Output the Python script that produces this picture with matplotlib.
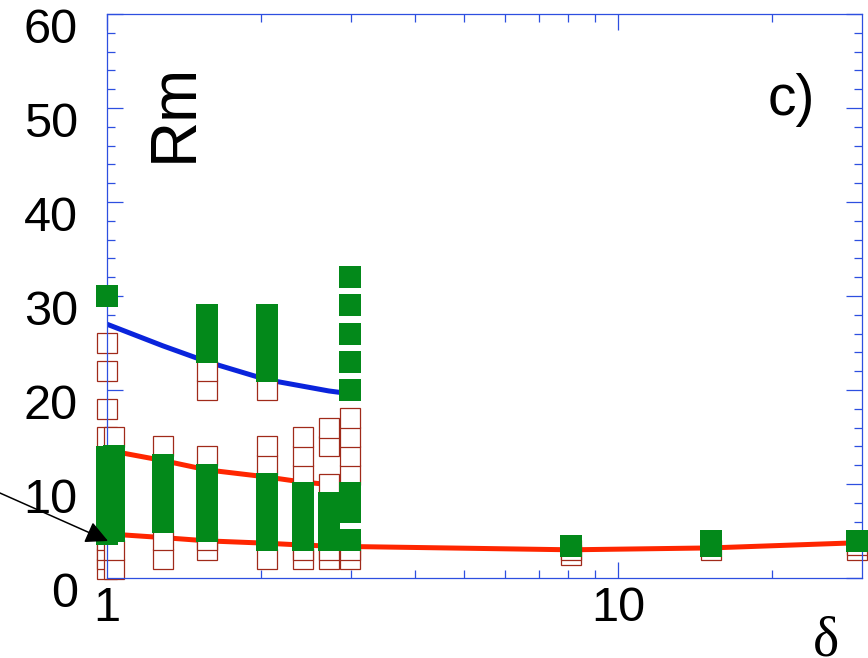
import matplotlib
matplotlib.use("Agg")
import matplotlib.pyplot as plt
from matplotlib.ticker import FixedLocator, MultipleLocator, NullFormatter, FixedFormatter
from matplotlib.transforms import ScaledTranslation

plt.rcParams['font.family'] = ['Liberation Sans', 'DejaVu Sans']

# columns of runs: aspect ratio delta, with non-dynamo (open) and dynamo (filled) Rm values
delta_cols = [1.0, 1.03, 1.286, 1.571, 2.054, 2.418, 2.716, 2.993, 8.09, 15.2, 29.4]
rm_open = [
    [1, 2, 3, 4, 15, 18, 22, 25],
    [1, 3, 15],
    [2, 4, 14],
    [3, 4, 13, 20, 22],
    [2, 12, 14, 20],
    [2, 3, 11, 13, 15],
    [2, 3, 10, 14, 16],
    [2, 3, 11, 13, 15, 17],
    [2.4, 3.0],
    [3.0],
    [3.0, 3.5],
]
rm_dynamo = [
    [4.7, 6, 8, 10, 12, 12.9, 30],
    [5, 7, 9, 11, 13],
    [6, 8, 10, 12],
    [5, 7, 9, 11, 24, 26, 28],
    [4, 6, 8, 10, 22, 24, 26, 28],
    [4, 5, 6, 7, 8, 9],
    [4, 6, 8],
    [4, 7, 8, 9, 20, 23, 26, 29, 32],
    [3.4],
    [3.4, 3.95],
    [3.95],
]

# threshold curves
blue_delta = [1.0, 1.286, 1.571, 2.054, 2.418, 2.716, 2.993]
blue_rm = [27.0, 24.7, 23.0, 21.1, 20.4, 19.9, 19.6]
red_up_delta = [1.0, 1.286, 1.571, 2.054, 2.418, 2.716, 2.993]
red_up_rm = [13.6, 12.5, 11.5, 10.75, 10.2, 9.95, 9.8]
red_low_delta = [1.0, 1.286, 1.571, 2.054, 2.418, 2.716, 2.993, 8.09, 15.2, 29.4]
red_low_rm = [4.7, 4.3, 3.95, 3.7, 3.5, 3.4, 3.35, 3.0, 3.2, 3.75]

green = '#03891a'
open_edge = '#a02a1a'
axis_col = '#2d4fe0'

fig = plt.figure(figsize=(8.68, 6.58), dpi=100)
ax = fig.add_axes([107 / 868, 80 / 658, 755 / 868, 564 / 658])

ax.plot(blue_delta, blue_rm, color='#0a24dc', lw=3.6, solid_capstyle='butt', zorder=1)
ax.plot(red_up_delta, red_up_rm, color='#ff2600', lw=3.6, solid_capstyle='butt', zorder=1)
ax.plot(red_low_delta, red_low_rm, color='#ff2600', lw=3.6, solid_capstyle='butt', zorder=1)

for d, vals in zip(delta_cols, rm_open):
    ax.plot([d] * len(vals), vals, ls='none', marker='s', ms=14.3, mfc='white',
            mec=open_edge, mew=0.9, clip_on=False, zorder=2)
for d, vals in zip(delta_cols, rm_dynamo):
    ax.plot([d] * len(vals), vals, ls='none', marker='s', ms=15.6, mfc=green,
            mew=0, clip_on=False, zorder=3)

ax.set_xscale('log')
ax.set_xlim(1, 30.03)
ax.set_ylim(0, 60)

ax.xaxis.set_major_locator(FixedLocator([1, 10]))
ax.xaxis.set_major_formatter(FixedFormatter(['1', '10']))
ax.xaxis.set_minor_locator(FixedLocator([2, 3, 4, 5, 6, 7, 8, 9, 20]))
ax.xaxis.set_minor_formatter(NullFormatter())
ax.yaxis.set_major_locator(MultipleLocator(10))
ax.yaxis.set_minor_locator(MultipleLocator(2))

for s in ax.spines.values():
    s.set_color(axis_col)
    s.set_linewidth(0.9)

ax.tick_params(which='both', direction='in', top=True, right=True, color=axis_col,
               width=0.9, labelsize=35)
ax.tick_params(which='major', length=11.5)
ax.tick_params(which='minor', length=5.8)
ax.tick_params(axis='y', pad=21)
ax.tick_params(axis='x', pad=6)

# y labels hang just below their tick
lift = ScaledTranslation(0, 6 / 100, fig.dpi_scale_trans)
for lab in ax.get_yticklabels():
    lab.set_va('top')
    lab.set_transform(lab.get_transform() + lift)

# labels
fig.text(175, 546, 'Rm', rotation=90, ha='center', va='center', fontsize=46,
         transform=None)
fig.text(768, 543, 'c)', ha='left', va='baseline', fontsize=41, transform=None)
fig.text(826, 43, 'δ', ha='center', va='top', fontsize=40,
         family=['Liberation Serif', 'DejaVu Serif'], transform=None)

ax.annotate('', xy=(1.0045, 3.94), xycoords='data',
            xytext=(-10, 169.4), textcoords='figure pixels',
            arrowprops=dict(arrowstyle='-|>', mutation_scale=34, color='black',
                            lw=1.1, shrinkA=0, shrinkB=0),
            annotation_clip=False, zorder=10)

fig.savefig('out.png', dpi=100)
